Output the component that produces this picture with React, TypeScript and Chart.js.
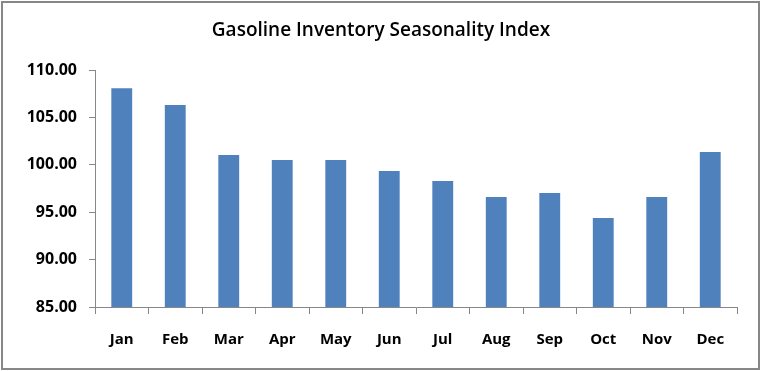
import React, { useEffect, useRef } from "react";
import { Chart, registerables } from "chart.js";

Chart.register(...registerables);

const titleText = "Gasoline Inventory Seasonality Index";
const months = ["Jan", "Feb", "Mar", "Apr", "May", "Jun", "Jul", "Aug", "Sep", "Oct", "Nov", "Dec"];
const indexValues = [108.07, 106.3, 101.03, 100.5, 100.5, 99.35, 98.3, 96.6, 97.03, 94.39, 96.6, 101.35];
const yMin = 85;
const yMax = 110;
const yStep = 5;

const frame = {
  id: "frame",
  afterDraw(chart: any) {
    const { ctx } = chart;
    ctx.save();
    ctx.strokeStyle = "#878787";
    ctx.lineWidth = 2;
    ctx.strokeRect(2, 2, chart.width - 4, chart.height - 4);
    ctx.fillStyle = "#000";
    ctx.font = "600 19px 'Open Sans'";
    ctx.textAlign = "center";
    ctx.textBaseline = "middle";
    ctx.fillText(titleText, 381, 31);
    ctx.restore();
  },
};

export default function App() {
  const ref = useRef<HTMLCanvasElement>(null);
  useEffect(() => {
    document.body.style.margin = "0";
    const chart = new Chart(ref.current!, {
      type: "bar",
      data: {
        labels: months,
        datasets: [
          {
            data: indexValues,
            backgroundColor: "#4f81bd",
            barPercentage: 0.39,
            categoryPercentage: 1,
          },
        ],
      },
      options: {
        animation: false,
        responsive: false,
        layout: { padding: { left: 0, top: 70, right: 24, bottom: 0 } },
        plugins: { legend: { display: false }, tooltip: { enabled: false }, title: { display: false } },
        scales: {
          x: {
            grid: { drawOnChartArea: false, drawTicks: true, tickLength: 7, color: "#878787", offset: true },
            border: { display: true, color: "#878787" },
            ticks: { color: "#000", font: { family: "'Open Sans'", size: 15, weight: "bold" }, padding: 17 },
            afterFit: (s: any) => {
              s.height = 64;
            },
          },
          y: {
            min: yMin,
            max: yMax,
            grid: { drawOnChartArea: false, drawTicks: true, tickLength: 6, color: "#878787" },
            border: { display: true, color: "#878787" },
            ticks: {
              stepSize: yStep,
              color: "#000",
              font: { family: "'Open Sans'", size: 16, weight: "bold" },
              padding: 12,
              callback: (v: any) => Number(v).toFixed(2),
            },
            afterFit: (s: any) => {
              s.width = 95;
            },
          },
        },
      },
      plugins: [frame],
    });
    return () => chart.destroy();
  }, []);
  return <canvas ref={ref} width={761} height={371} style={{ display: "block" }} />;
}
